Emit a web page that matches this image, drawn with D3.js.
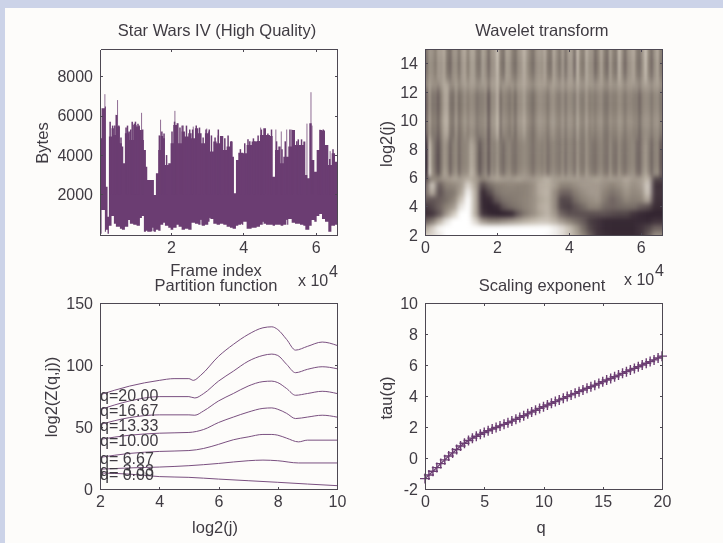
<!DOCTYPE html>
<html lang="en">
<head>
<meta charset="UTF-8">
<title>Star Wars IV multifractal analysis</title>
<script src="https://cdn.jsdelivr.net/npm/d3@7/dist/d3.min.js"></script>
<style>
    html, body { margin: 0; padding: 0; background: #ccd3e8; overflow: hidden; }
    svg { display: block; filter: blur(0.45px); }
    text { font-family: "Liberation Sans", Arial, sans-serif; fill: #3f3b42; }
    .axis text { font-size: 16px; fill: #3f3b42; }
    .axis path, .axis line { stroke: #4d4852; stroke-width: 1; shape-rendering: crispEdges; }
    .title, .label { font-size: 16.5px; text-anchor: middle; }
    .exp { font-size: 16px; }
</style>
</head>
<body>
<script>
// top left: frame size envelope
const frames = [370,830,1750,2030,2490,2860,3590,4240,4790,5250,5900,6450,6820,7280,8200,8660,9580,10510,11430,11980,12530,13090,13460,14650,15300,15850,16500,17140,17880,18340,19260,19910,20650,21570,22120,22950,23870,24790,25710,26640,27560,28480,29400,30320,30780,31710,32630,33550,34470,35390,36310,37050,37420,37970,38620,40000,40920,42300,43690,44610,45530,46270,47370,48110,48760,49680,50320,51060,52440,53370,54290,55670,56590,57140,57700,58250,58900,59630,60280,61020,61750,62580,63500,64430,65350,65900];
const frameTop = [4855,6385,6470,2390,860,4940,5365,5025,6045,5450,4600,4430,3580,5110,5195,4770,5535,5450,5280,4770,4260,3410,2730,2730,1965,3070,4260,4974,4855,3495,3580,4600,5535,5620,4600,5195,4940,5110,4855,5365,5110,4600,5110,5195,4175,4685,4600,4974,4260,4430,4685,3920,2050,3750,4124,4090,4515,4685,4720,5025,5365,5025,4974,2900,4260,4430,3580,3920,4430,5280,4515,4515,4685,2985,2815,5620,3750,3155,4260,5280,5246,4515,3495,4090,3665,3665];
const frameLow = [0,1200,100,200,0,400,900,500,350,350,250,200,200,350,700,500,450,400,800,900,100,150,100,120,100,200,150,450,550,400,300,200,300,450,350,200,250,200,550,500,450,400,450,600,750,500,450,500,450,350,300,250,250,400,450,600,250,300,350,450,500,450,450,400,450,450,400,450,750,550,500,450,400,200,200,400,700,600,900,1000,750,600,100,400,450,450];
const spikeFrames = [1750,4790,5250,11890,17140,21100,21800,23000,26170,29900,33000,44800,47800,49000,50500,52000,53400,57600,58710,59000,61200,64000];
const spikeTops = [7100,6050,6800,6150,5800,6250,5600,5500,5450,5350,5000,5400,5000,5300,5200,5300,5300,5600,7200,5500,5300,4200];
const dipFrames = [4000,15000,28300,30800,39500,45500,52000,63000,64500];
const dipTops = [500,300,700,800,500,600,700,500,400];
// finer grass along the top of the envelope
const grassFrames = [3200,3900,4500,5600,6200,7600,8000,8900,9300,9900,10200,10900,11200,12200,16800,17500,18100,18800,20300,21000,22500,23300,24300,25200,26000,27000,27900,28900,29700,30600,31200,32200,33100,34000,34900,35800,36700,38300,39200,40400,41300,41800,42800,43200,44100,45000,45900,46800,47800,49200,50700,51600,52900,53800,54800,55200,56100,59300,60600,61400,62100,63000,63900,64800];
const grassTops = [5700,5500,5500,5500,4900,5400,5500,5300,5700,5600,5700,5600,5500,5300,5000,5200,5100,4000,5200,5700,5400,5500,5500,5300,5300,5500,5400,4900,5300,5300,5000,4900,5300,4700,4850,5000,4700,3400,4300,4600,4800,4700,4850,4700,5000,5300,5300,5100,5300,4700,4300,4700,5300,4800,4700,4800,4800,3700,4000,5100,5300,4300,3800,4300];

// top right: wavelet picture. Lower part is a coarse grid, upper part is stripes times bands
const lowCols = [0,2000,4000,6000,8000,10000,12000,14000,16000,18000,20000,22000,24000,26000,28000,30000,32000,34000,36000,38000,40000,42000,44000,46000,48000,50000,52000,54000,56000,58000,60000,62000,64000];
const lowRows = [2,2.5,3,3.5,4,4.5,5,5.5,6];
const lowGrid = [
    [.8,.85,.92,1,1,1,1,1,1,1,1,1,1,1,1,1,1,.98,.94,.88,.78,.66,.5,.3,.12,.08,.06,.06,.06,.06,.1,.3,.55],
    [.65,.82,.97,1,1,1,1,1,1,1,1,1,1,1,1,1,1,1,.95,.88,.78,.62,.4,.2,.1,.05,.05,.05,.05,.05,.1,.2,.35],
    [.3,.45,.7,.9,1,1,1,.85,.6,.5,.5,.55,.6,.65,.7,.75,.78,.78,.72,.6,.5,.4,.3,.15,.1,.05,.05,.05,.05,.05,.05,.05,.1],
    [.08,.12,.3,.6,.8,1,1,.7,.12,.04,.02,.02,.05,.3,.45,.55,.65,.72,.6,.35,.25,.25,.25,.25,.25,.25,.22,.2,.2,.1,.05,.03,.03],
    [.12,.22,.35,.5,.6,.9,1,.7,.06,.02,.06,.3,.4,.45,.5,.55,.68,.72,.55,.2,.16,.28,.38,.5,.5,.38,.35,.38,.4,.4,.3,.25,.08],
    [.3,.28,.32,.4,.5,.78,1,.7,.05,.06,.3,.42,.45,.48,.5,.55,.65,.7,.55,.2,.22,.4,.5,.55,.58,.45,.35,.42,.52,.48,.5,.68,.1],
    [.35,.7,.25,.42,.45,.65,.95,.7,.05,.22,.42,.48,.48,.48,.5,.55,.68,.72,.55,.35,.35,.48,.55,.6,.6,.5,.42,.48,.58,.52,.55,.8,.12],
    [.3,.8,.3,.5,.52,.6,.85,.65,.2,.38,.48,.5,.52,.5,.5,.55,.68,.7,.62,.5,.5,.55,.6,.6,.6,.55,.5,.55,.62,.55,.6,.82,.1],
    [.2,.5,.55,.6,.65,.62,.7,.62,.5,.6,.65,.62,.6,.65,.6,.6,.65,.72,.62,.62,.62,.62,.6,.62,.65,.6,.62,.6,.68,.6,.62,.75,.2]
];
const stripeLow = [-1.5,1.2,.3,-.3,-.8,-.1,.5,.3,-.4,.1,.3,-.3,.1,.2,.3,.8,.6,0,-.7,-.2,.1,-.6,.1,.1,.4,-.1,-.3,.1,.2,-.1,-.2,.1,.2,.3,.2,0,-.2,.1,.2,.1,.2,-.2,.1,.2,0,-.1,.2,-.2,.2,.1,-.2,.4,0,-.1,.4,.1,-.1,-.2,.1,.2,-.1,-.2,.3,-.1,-.2,.3,0,-.2,.1,.2,.2,-.3,-.4,.2,.5,.1,-.4,.1,.2,-.6];
const stripeMid = [-.9,.4,-.3,-.3,-.8,0,.7,.8,-.3,-.5,.3,-.5,-.1,.3,-.1,.2,.1,-.4,-.2,-.1,.1,-1,.1,.3,.9,-.5,.1,0,-.3,0,-.5,.2,.3,.6,.1,-.2,-.5,0,.3,.2,.1,-.3,.2,.3,-.1,-.2,.2,-.3,.2,.1,-.3,.5,-.1,-.2,.4,-.1,0,-.2,.1,.2,-.3,-.4,.1,-.1,-.1,.3,.1,-.3,.1,.1,-.1,-.2,-.7,0,.2,.1,-.3,.1,.2,-.3];
const stripeHigh = [-.5,.2,.1,-.2,.3,.3,.5,-.3,-.6,.1,.2,-.4,.3,.5,-.2,.4,.4,-.3,-.4,.4,.1,-.6,.1,.3,.9,-.2,-.5,.4,.3,-.2,-.5,.1,.3,.7,.2,-.2,-.5,.1,.3,.2,.5,-.3,-.4,.5,0,-.4,.3,-.5,.3,.3,-.6,.8,-.1,-.3,.6,.2,.1,-.6,-.1,.5,-.2,-.6,.4,-.2,-.4,.8,.1,-.6,.1,.3,.5,-.3,-.5,.2,.9,-.1,-.6,.1,.5,-.3];
const stripes = [stripeLow, stripeMid, stripeHigh];
const bandLog2j = [5.5,6.25,6.75,7.5,8.5,9,9.5,10,10.5,11,12,12.5,13,14,15];
const bandLevel = [.5,.52,.46,.46,.46,.5,.52,.56,.52,.5,.5,.62,.54,.52,.55];
const bandAmp = [.26,.26,.26,.26,.24,.2,.2,.2,.2,.2,.2,.1,.2,.25,.25];
const bandStripe = [0,0,0,0,0,1,1,1,1,1,1,1,2,2,2];
const stripeStep = 824;

// bottom left: partition function curves
const curveNames = ['q=20.00','q=16.67','q=13.33','q=10.00','q= 6.67','q= 3.33','q= 0.00'];
const curveJ = [
    [2,3,4,4.5,5,5.15,5.4,6,6.5,7,7.5,7.8,8,8.3,8.6,9,9.5,10],
    [2,3,4,5,5.2,5.5,6,6.5,7,7.5,7.8,8,8.3,8.6,9,9.5,10],
    [2,3,4,5,5.2,5.5,6,6.5,7,7.5,7.8,8,8.3,8.6,9,9.5,10],
    [2,3,4,5,5.5,6,6.5,7,7.5,7.8,8,8.3,8.6,9,9.5,10],
    [2,3,4,5,5.5,6,6.5,7,7.5,7.8,8,8.3,8.7,9,10],
    [2,3,4,5,6,7,7.5,8,8.7,10],
    [2,3,4,5,6,7,8,9,10]
];
const curveZ = [
    [76,83,87.6,89,89,87.6,91.7,107,116.6,124.6,130,130.8,128.6,120.6,112,115,118.5,115.8],
    [64,71,74.5,74.5,73.4,77,87,95,103,107.7,108.8,107.7,100.5,93.8,96.5,98.6,97],
    [52,57.6,59.8,59.8,59.5,63,71,77,83,86.6,87,85.8,81,75.6,77,78.8,77],
    [40,43.4,45,45.6,48,53.6,58,62,65,65.4,64.3,61,56.8,58,59.5,58],
    [25.5,28.7,30.3,31,32.7,36,39.7,42,44,44,43.4,41,38,39.4,39.4],
    [16,17,17.7,18.8,20.6,22.8,23.3,22.8,21,21],
    [12.9,12,10,9.4,8,6.7,5.4,4,2.7]
];

// bottom right: scaling exponent
const qValues = [0,.33,.67,1,1.33,1.67,2,2.33,2.67,3,3.33,3.67,4,4.33,4.67,5,5.33,5.67,6,6.33,6.67,7,7.33,7.67,8,8.33,8.67,9,9.33,9.67,10,10.33,10.67,11,11.33,11.67,12,12.33,12.67,13,13.33,13.67,14,14.33,14.67,15,15.33,15.67,16,16.33,16.67,17,17.33,17.67,18,18.33,18.67,19,19.33,19.67,20];
const tauValues = [-1.33,-1.1,-.85,-.62,-.36,-.12,.13,.33,.55,.77,.95,1.13,1.28,1.4,1.53,1.65,1.76,1.87,1.97,2.07,2.17,2.27,2.38,2.5,2.62,2.73,2.85,2.97,3.08,3.2,3.31,3.42,3.53,3.64,3.75,3.85,3.96,4.07,4.17,4.28,4.39,4.5,4.6,4.7,4.81,4.92,5.03,5.13,5.24,5.35,5.46,5.57,5.68,5.78,5.89,6,6.11,6.22,6.33,6.45,6.57];

const purple = '#6b3d72';
const svg = d3.select('body').append('svg').attr('width', 723).attr('height', 543);
svg.append('rect').attr('x', 5).attr('y', 8).attr('width', 718).attr('height', 535).attr('fill', '#fdfcfa');

// one axes box with ticks pointing inwards on all four sides
function makeAxes(left, top, xDomain, yDomain, xTicks, yTicks, xFormat) {
    const w = 237, h = 186;
    const x = d3.scaleLinear().domain(xDomain).range([left, left + w]);
    const y = d3.scaleLinear().domain(yDomain).range([top + h, top]);
    const draw = () => {
        const axes = [
            [d3.axisBottom(x).tickValues(xTicks).tickFormat(xFormat || (d => d)), 0, top + h],
            [d3.axisLeft(y).tickValues(yTicks).tickFormat(d => d), left, 0],
            [d3.axisTop(x).tickValues(xTicks).tickFormat(''), 0, top],
            [d3.axisRight(y).tickValues(yTicks).tickFormat(''), left + w, 0]
        ];
        axes.forEach(a => {
            svg.append('g').attr('class', 'axis')
                .attr('transform', `translate(${a[1]},${a[2]})`)
                .call(a[0].tickSizeInner(-2.5).tickSizeOuter(0).tickPadding(7));
        });
    };
    return { x, y, draw, left, top, w, h };
}

function addText(cls, str, x, y, rotate) {
    const t = svg.append('text').attr('class', cls).text(str)
        .attr('dominant-baseline', 'central');
    if (rotate) t.attr('transform', `translate(${x},${y}) rotate(-90)`);
    else t.attr('x', x).attr('y', y);
    return t;
}

function addExponent(x, y) {
    addText('exp', 'x 10', x, y);
    addText('exp', '4', x + 31, y - 9);
}

const tenK = d => d / 10000;

// ---- Star Wars frame sizes
const a1 = makeAxes(100, 49, [400, 65900], [-70, 9400], [20000, 40000, 60000], [2000, 4000, 6000, 8000], tenK);
svg.append('clipPath').attr('id', 'clip1').append('rect')
    .attr('x', a1.left).attr('y', a1.top).attr('width', a1.w).attr('height', a1.h);
const g1 = svg.append('g').attr('clip-path', 'url(#clip1)');
const area = d3.area()
    .x((d, i) => a1.x(frames[i]))
    .y0((d, i) => a1.y(frameLow[i]))
    .y1((d, i) => a1.y(frameTop[i]))
    .curve(d3.curveStepAfter);
g1.append('path').datum(frames).attr('d', area).attr('fill', purple);
g1.selectAll('.grass').data(grassFrames).enter().append('line').attr('class', 'grass')
    .attr('x1', d => a1.x(d)).attr('x2', d => a1.x(d))
    .attr('y1', a1.y(2000)).attr('y2', (d, i) => a1.y(grassTops[i]))
    .attr('stroke', purple).attr('stroke-width', 1.5);
g1.selectAll('.spike').data(spikeFrames).enter().append('line').attr('class', 'spike')
    .attr('x1', d => a1.x(d)).attr('x2', d => a1.x(d))
    .attr('y1', a1.y(2000)).attr('y2', (d, i) => a1.y(spikeTops[i]))
    .attr('stroke', purple).attr('stroke-opacity', 0.75).attr('stroke-width', 1);
g1.selectAll('.dip').data(dipFrames).enter().append('line').attr('class', 'dip')
    .attr('x1', d => a1.x(d)).attr('x2', d => a1.x(d))
    .attr('y1', a1.y(-70)).attr('y2', (d, i) => a1.y(dipTops[i]))
    .attr('stroke', '#fdfcfa').attr('stroke-opacity', 0.8).attr('stroke-width', 1);
a1.draw();
addText('title', 'Star Wars IV (High Quality)', 217, 30);
addText('label', 'Frame index', 216, 270);
addText('label', 'Bytes', 42, 143, true);
addExponent(298, 280);

// ---- Wavelet transform
const a2 = makeAxes(425, 49, [0, 65900], [2, 15], [0, 20000, 40000, 60000], [2, 4, 6, 8, 10, 12, 14], tenK);
const colour = d3.scaleLinear().domain([0, .5, .75, 1])
    .range(['#2b1d2a', '#8d8378', '#c4bbae', '#ffffff']).clamp(true);
const defs = svg.append('defs');
defs.append('clipPath').attr('id', 'clip2').append('rect')
    .attr('x', a2.left).attr('y', a2.top).attr('width', a2.w).attr('height', a2.h);
defs.append('filter').attr('id', 'blurFine').attr('x', '-10%').attr('y', '-10%').attr('width', '120%').attr('height', '120%')
    .attr('color-interpolation-filters', 'sRGB')
    .append('feGaussianBlur').attr('stdDeviation', '0.9 4');
defs.append('filter').attr('id', 'blurCoarse').attr('x', '-10%').attr('y', '-10%').attr('width', '120%').attr('height', '120%')
    .attr('color-interpolation-filters', 'sRGB')
    .append('feGaussianBlur').attr('stdDeviation', '2.4 2.6');
const g2 = svg.append('g').attr('clip-path', 'url(#clip2)');

// middle of neighbouring rows, the outer rows run on past the box so the blur has no edge
function rowEdge(list, i) {
    if (i < 0) return list[0] - 1;
    if (i >= list.length - 1) return list[list.length - 1] + 1;
    return (list[i] + list[i + 1]) / 2;
}
const stripeCells = [];
bandLog2j.forEach((j, r) => {
    stripes[bandStripe[r]].forEach((s, k) => {
        stripeCells.push({ k, r, v: bandLevel[r] + bandAmp[r] * s });
    });
});
g2.append('g').attr('filter', 'url(#blurFine)')
    .selectAll('rect').data(stripeCells).enter().append('rect')
    .attr('x', d => a2.x(d.k * stripeStep) - (d.k === 0 ? 12 : 0))
    .attr('width', d => a2.x(stripeStep) - a2.x(0) + (d.k === 0 || d.k === 79 ? 12 : 0) + 0.5)
    .attr('y', d => a2.y(rowEdge(bandLog2j, d.r)))
    .attr('height', d => a2.y(rowEdge(bandLog2j, d.r - 1)) - a2.y(rowEdge(bandLog2j, d.r)) + 0.5)
    .attr('fill', d => colour(d.v));

const lowCells = [];
lowGrid.forEach((row, r) => row.forEach((v, k) => lowCells.push({ k, r, v })));
const lowEnd = k => k === lowCols.length - 1 ? 70000 : (lowCols[k] + lowCols[k + 1]) / 2;
const lowStart = k => k === 0 ? -4000 : (lowCols[k - 1] + lowCols[k]) / 2;
g2.append('g').attr('filter', 'url(#blurCoarse)')
    .selectAll('rect').data(lowCells).enter().append('rect')
    .attr('x', d => a2.x(lowStart(d.k)))
    .attr('width', d => a2.x(lowEnd(d.k)) - a2.x(lowStart(d.k)) + 0.5)
    .attr('y', d => a2.y(d.r === lowRows.length - 1 ? 6.1 : rowEdge(lowRows, d.r)))
    .attr('height', d => a2.y(rowEdge(lowRows, d.r - 1)) - a2.y(d.r === lowRows.length - 1 ? 6.1 : rowEdge(lowRows, d.r)) + 0.5)
    .attr('fill', d => colour(d.v));
a2.draw();
addText('title', 'Wavelet transform', 542, 30);
addText('label', 'log2(j)', 386, 144, true);
addExponent(624, 279);

// ---- Partition function
const a3 = makeAxes(100, 303, [2, 10], [0, 150], [2, 4, 6, 8, 10], [0, 50, 100, 150]);
const line3 = d3.line().curve(d3.curveMonotoneX);
svg.append('g').selectAll('path').data(curveZ).enter().append('path')
    .attr('d', (zs, c) => line3(zs.map((z, i) => [a3.x(curveJ[c][i]), a3.y(z)])))
    .attr('fill', 'none').attr('stroke', '#7a5080').attr('stroke-width', 1);
a3.draw();
svg.append('g').selectAll('text').data(curveNames).enter().append('text')
    .text(d => d)
    .style('white-space', 'pre')
    .attr('x', a3.x(2))
    .attr('y', (d, c) => a3.y(curveZ[c][0]) + 1)
    .attr('dominant-baseline', 'central')
    .attr('font-size', 16);
addText('title', 'Partition function', 216, 285);
addText('label', 'log2(j)', 215, 527);
addText('label', 'log2(Z(q,j))', 51, 397, true);

// ---- Scaling exponent
const a4 = makeAxes(425, 303, [0, 20], [-2, 10], [0, 5, 10, 15, 20], [-2, 0, 2, 4, 6, 8, 10]);
const line4 = d3.line().x((d, i) => a4.x(qValues[i])).y(d => a4.y(d));
svg.append('path').datum(tauValues).attr('d', line4)
    .attr('fill', 'none').attr('stroke', purple).attr('stroke-width', 1.3);
svg.append('g').selectAll('path').data(tauValues).enter().append('path')
    .attr('d', (d, i) => {
        const px = a4.x(qValues[i]), py = a4.y(d);
        return `M${px - 5},${py}H${px + 5}M${px},${py - 5}V${py + 5}`;
    })
    .attr('stroke', purple).attr('stroke-width', 1.4);
a4.draw();
addText('title', 'Scaling exponent', 542, 285);
addText('label', 'q', 541, 527);
addText('label', 'tau(q)', 386, 398, true);
</script>
</body>
</html>
